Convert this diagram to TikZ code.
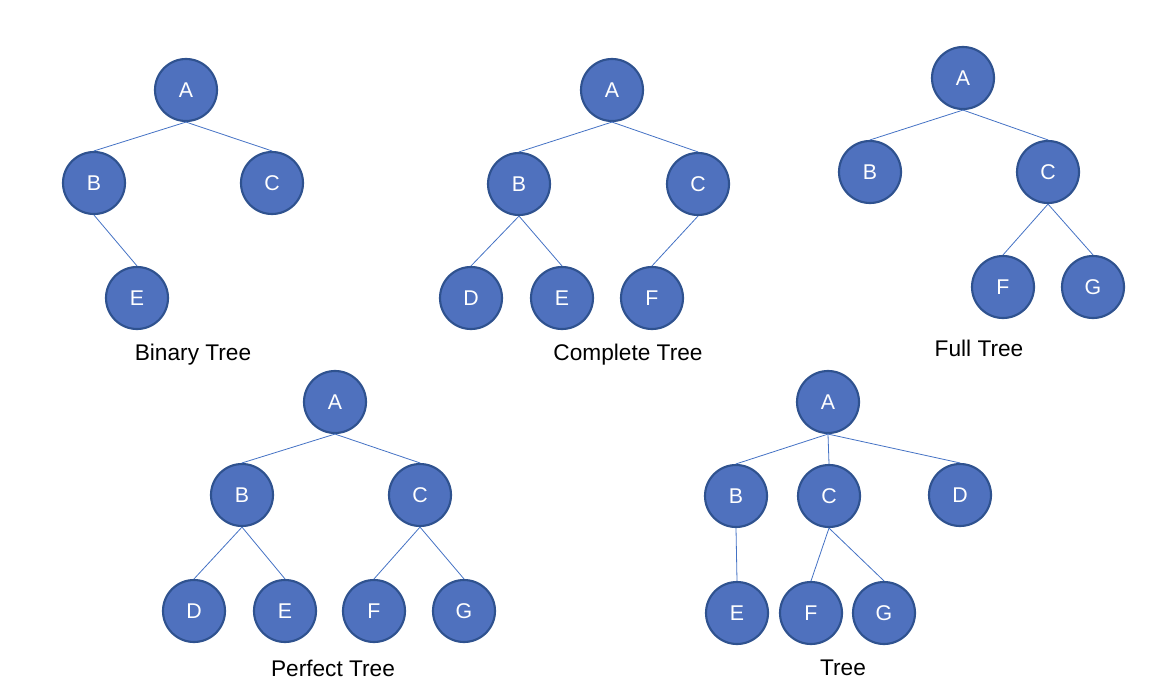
\documentclass[tikz,border=0pt]{standalone}
\usepackage{fontspec}
\setmainfont{Liberation Sans}
\definecolor{nodefill}{HTML}{4F71BE}
\definecolor{nodeline}{HTML}{2F528F}
\definecolor{edgeblue}{HTML}{4472C4}
\tikzset{
  treenode/.style={circle, draw=nodeline, line width=1.6pt, fill=nodefill, text=white, minimum size=46.5pt, inner sep=0pt, font={\fontsize{16}{19}\selectfont}},
  treeedge/.style={draw=edgeblue, line width=0.6pt},
  caption/.style={text=black, font={\fontsize{17}{20}\selectfont}}
}

\begin{document}
\begin{tikzpicture}[x=0.75pt, y=-0.75pt]
    \useasboundingbox (0,0) rectangle (1164,696);

    % binary tree
    \node[treenode] (bA) at (186,90) {A};
    \node[treenode] (bB) at (94,183) {B};
    \node[treenode] (bC) at (272,183) {C};
    \node[treenode] (bE) at (137,298) {E};
    \node[caption] (bcap) at (193,355) {Binary Tree};
    \draw[treeedge] (bA.south) -- (bB.north);
    \draw[treeedge] (bA.south) -- (bC.north);
    \draw[treeedge] (bB.south) -- (bE.north);

    % complete tree
    \node[treenode] (cA) at (612,90) {A};
    \node[treenode] (cB) at (519,184) {B};
    \node[treenode] (cC) at (698,184) {C};
    \node[treenode] (cD) at (471,298) {D};
    \node[treenode] (cE) at (562,298) {E};
    \node[treenode] (cF) at (652,298) {F};
    \node[caption] (ccap) at (628,355) {Complete Tree};
    \draw[treeedge] (cA.south) -- (cB.north);
    \draw[treeedge] (cA.south) -- (cC.north);
    \draw[treeedge] (cB.south) -- (cD.north);
    \draw[treeedge] (cB.south) -- (cE.north);
    \draw[treeedge] (cC.south) -- (cF.north);

    % full tree
    \node[treenode] (fA) at (963,78) {A};
    \node[treenode] (fB) at (870,172) {B};
    \node[treenode] (fC) at (1048,172) {C};
    \node[treenode] (fF) at (1003,287) {F};
    \node[treenode] (fG) at (1093,287) {G};
    \node[caption] (fcap) at (979,348) {Full Tree};
    \draw[treeedge] (fA.south) -- (fB.north);
    \draw[treeedge] (fA.south) -- (fC.north);
    \draw[treeedge] (fC.south) -- (fF.north);
    \draw[treeedge] (fC.south) -- (fG.north);

    % perfect tree
    \node[treenode] (pA) at (335,402) {A};
    \node[treenode] (pB) at (242,495) {B};
    \node[treenode] (pC) at (420,495) {C};
    \node[treenode] (pD) at (194,611) {D};
    \node[treenode] (pE) at (285,611) {E};
    \node[treenode] (pF) at (374,611) {F};
    \node[treenode] (pG) at (464,611) {G};
    \node[caption] (pcap) at (333,668) {Perfect Tree};
    \draw[treeedge] (pA.south) -- (pB.north);
    \draw[treeedge] (pA.south) -- (pC.north);
    \draw[treeedge] (pB.south) -- (pD.north);
    \draw[treeedge] (pB.south) -- (pE.north);
    \draw[treeedge] (pC.south) -- (pF.north);
    \draw[treeedge] (pC.south) -- (pG.north);

    % general tree
    \node[treenode] (tA) at (828,402) {A};
    \node[treenode] (tB) at (736,496) {B};
    \node[treenode] (tC) at (829,496) {C};
    \node[treenode] (tD) at (960,495) {D};
    \node[treenode] (tE) at (737,613) {E};
    \node[treenode] (tF) at (811,613) {F};
    \node[treenode] (tG) at (884,613) {G};
    \node[caption] (tcap) at (843,668) {Tree};
    \draw[treeedge] (tA.south) -- (tB.north);
    \draw[treeedge] (tA.south) -- (tC.north);
    \draw[treeedge] (tA.south) -- (tD.north);
    \draw[treeedge] (tB.south) -- (tE.north);
    \draw[treeedge] (tC.south) -- (tF.north);
    \draw[treeedge] (tC.south) -- (tG.north);
\end{tikzpicture}
\end{document}
